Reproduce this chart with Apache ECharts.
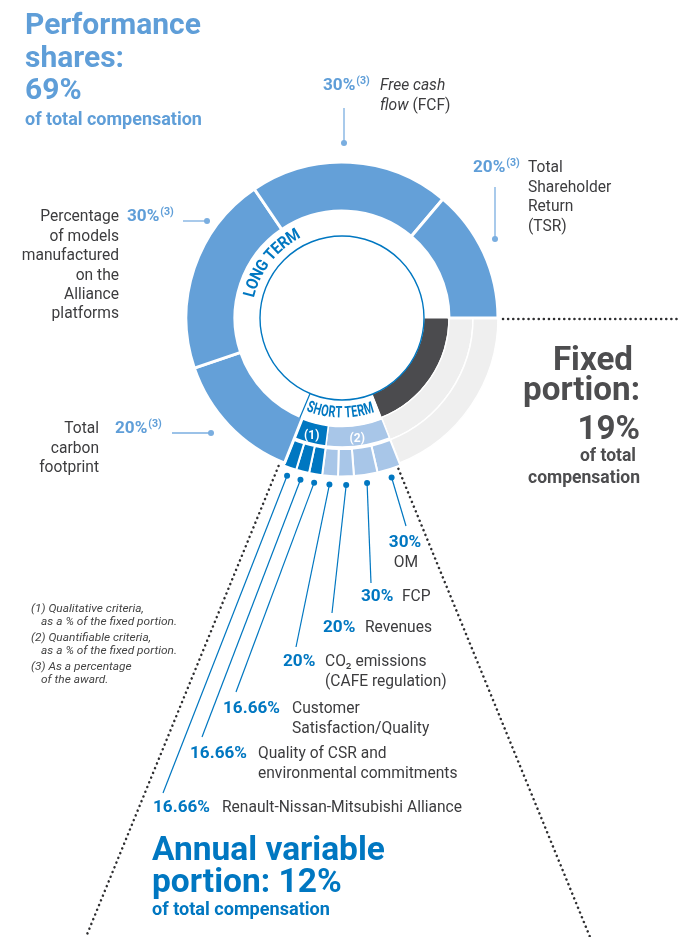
<!DOCTYPE html>
<html><head><meta charset="utf-8">
<script src="https://cdn.jsdelivr.net/npm/echarts@6/dist/echarts.min.js"></script>
<style>html,body{margin:0;padding:0;background:#fff}#c{width:681px;height:937px}</style>
</head><body><div id="c"></div>
<script>
// ---------------- DATA ----------------
const groupNames = ['Fixed portion', 'Annual variable portion', 'Performance shares'];
const groupShares = [19, 12, 69]; // % of total compensation
const longTermNames = ['Total carbon footprint', 'Percentage of models manufactured on the Alliance platforms', 'Free cash flow (FCF)', 'Total Shareholder Return (TSR)'];
const longTermWeights = [20, 30, 30, 20]; // % of the award
const quantNames = ['OM', 'FCP', 'Revenues', 'CO2 emissions (CAFE regulation)'];
const quantWeights = [30, 30, 20, 20]; // % of fixed portion
const qualNames = ['Customer Satisfaction/Quality', 'Quality of CSR and environmental commitments', 'Renault-Nissan-Mitsubishi Alliance'];
const qualWeights = [16.66, 16.66, 16.66]; // % of fixed portion
const footnotes = [['(1) Qualitative criteria,', 'as a % of the fixed portion.'], ['(2) Quantifiable criteria,', 'as a % of the fixed portion.'], ['(3) As a percentage', 'of the award.']];

// ---------------- STYLE / LAYOUT ----------------
const FONT = 'Roboto, "Noto Sans", sans-serif';
const C = { longBlue:'#64a0d8', titleBlue:'#5f9ed8', darkBlue:'#0077c1', lightBlue:'#a8c6e8', darkGray:'#4b4b4e', lightGray:'#efefef', text:'#3c3c3e', fixedText:'#4d4d4f', dots:'#2e2e30', leaderLight:'#7aaee0' };
const CX = 342, CY = 318;
const R = { hole: 82, mid: 107, split: 131, out: 156, stMidIn: 108.5, stMidOut: 129, stOutIn: 131, stOut: 158.5 };

const sum = a => a.reduce((s, v) => s + v, 0);
const mctx = document.createElement('canvas').getContext('2d');
function fitSize(str, weight, style, target) {
  mctx.font = `${style} ${weight} 100px ${FONT}`;
  return 100 * target / mctx.measureText(str).width;
}
function measure(str, font) { mctx.font = font; return mctx.measureText(str).width; }
function polar(deg, r) { const t = deg * Math.PI / 180; return [CX + r * Math.cos(t), CY + r * Math.sin(t)]; }

const fsPerf = fitSize('Performance', 'bold', 'normal', 176);
const fsPerfSub = fitSize('of total compensation', 'bold', 'normal', 177);
const fsAnnual = fitSize('Annual variable', 'bold', 'normal', 233);
const fsAnnualSub = fitSize('of total compensation', 'bold', 'normal', 178);
const fsFixed = fitSize('portion:', 'bold', 'normal', 117);
const fsFixedSub = fitSize('compensation', 'bold', 'normal', 112);
const fsBody = 16.8;
const sxBody = 240 / measure('Renault-Nissan-Mitsubishi Alliance', `normal normal ${fsBody}px ${FONT}`);
const fsPct = fitSize('16.66%', 'bold', 'normal', 57);
const fsNote = 11.8;
const sxNote = 136 / measure('as a % of the fixed portion.', `italic normal ${fsNote}px ${FONT}`);

const G = [];
function T(str, x, base, fs, opt = {}) {
  const weight = opt.weight || 'normal', style = opt.style || 'normal';
  G.push({ type: 'text', x, y: base - 0.35 * fs, z: 20, scaleX: opt.sx || 1, style: { text: str, font: `${style} ${weight} ${fs.toFixed(2)}px ${FONT}`, fill: opt.color || C.text, textAlign: opt.align || 'left', textVerticalAlign: 'middle' } });
}
function L(p1, p2, color, w, dash) {
  G.push({ type: 'line', z: 18, shape: { x1: p1[0], y1: p1[1], x2: p2[0], y2: p2[1] }, style: { stroke: color, lineWidth: w, lineDash: dash || null, lineCap: dash ? 'round' : 'butt' } });
}
function dot(p, color) { G.push({ type: 'circle', z: 19, shape: { cx: p[0], cy: p[1], r: 3 }, style: { fill: color } }); }
function arcText(str, r, midDeg, dir, fs, sx, color) {
  const font = `bold ${fs}px ${FONT}`;
  mctx.font = font;
  const chars = [...str];
  const ws = chars.map(c => mctx.measureText(c).width * sx);
  let acc = -sum(ws) / 2;
  chars.forEach((c, i) => {
    const s = acc + ws[i] / 2; acc += ws[i];
    if (c === ' ') return;
    const th = midDeg * Math.PI / 180 + dir * s / r;
    const rot = dir > 0 ? -(th + Math.PI / 2) : -(th - Math.PI / 2);
    G.push({ type: 'text', x: CX + r * Math.cos(th), y: CY + r * Math.sin(th), rotation: rot, scaleX: sx, z: 21,
      style: { text: c, font, fill: color, textAlign: 'center', textVerticalAlign: 'middle' } });
  });
}

// ---------------- angles ----------------
const fixedV = groupShares[0], shortV = groupShares[1], longV = groupShares[2];
const k = shortV / (sum(quantWeights) + sum(qualWeights));
const ltK = longV / sum(longTermWeights);
const degPer = 360 / sum(groupShares);
const shortStart = fixedV * degPer, shortEnd = (fixedV + shortV) * degPer;
const shortItems = quantWeights.concat(qualWeights);
const shortMid = []; { let a = shortStart; shortItems.forEach(w => { const d = w * k * degPer; shortMid.push(a + d / 2); a += d; }); }

// ---------------- headings ----------------
T('Performance', 25, 37, fsPerf, { weight: 'bold', color: C.titleBlue });
T('shares:', 25, 70, fsPerf, { weight: 'bold', color: C.titleBlue });
T(groupShares[2] + '%', 25, 102, fsPerf, { weight: 'bold', color: C.titleBlue });
T('of total compensation', 25, 127, fsPerfSub, { weight: 'bold', color: C.titleBlue });

T('Fixed', 633, 373, fsFixed, { weight: 'bold', color: C.fixedText, align: 'right' });
T('portion:', 640, 403, fsFixed, { weight: 'bold', color: C.fixedText, align: 'right' });
T(groupShares[0] + '%', 640, 442, fsFixed, { weight: 'bold', color: C.fixedText, align: 'right' });
T('of total', 636, 463, fsFixedSub, { weight: 'bold', color: C.fixedText, align: 'right' });
T('compensation', 640, 485, fsFixedSub, { weight: 'bold', color: C.fixedText, align: 'right' });

T('Annual variable', 152, 863, fsAnnual, { weight: 'bold', color: C.darkBlue });
T('portion: ' + groupShares[1] + '%', 152, 895, fsAnnual, { weight: 'bold', color: C.darkBlue });
T('of total compensation', 152, 917, fsAnnualSub, { weight: 'bold', color: C.darkBlue });

// footnotes
footnotes.forEach((f, i) => {
  const b = 613 + i * 29;
  T(f[0], 31, b, fsNote, { style: 'italic', color: '#444', sx: sxNote });
  T(f[1], 41, b + 13, fsNote, { style: 'italic', color: '#444', sx: sxNote });
});

// ---------------- long-term labels ----------------
const LH = 19.4;
const ltLayout = [
  { pctX: 115, base: 435, textX: 99, align: 'right', lines: ['Total', 'carbon', 'footprint'], line: [[172, 433], [211, 433]] },
  { pctX: 127, base: 223, textX: 119, align: 'right', lines: ['Percentage', 'of models', 'manufactured', 'on the', 'Alliance', 'platforms'], line: [[183, 221], [207, 221]] },
  { pctX: 323, base: 92, textX: 380, align: 'left', lines: null, line: [[344, 108], [344, 143]] },
  { pctX: 473, base: 174, textX: 528, align: 'left', lines: ['Total', 'Shareholder', 'Return', '(TSR)'], line: [[495, 187], [495, 239]] }
];
const bodyOpt = extra => Object.assign({ sx: sxBody }, extra || {});
ltLayout.forEach((o, i) => {
  const pct = longTermWeights[i] + '%';
  T(pct, o.pctX, o.base, fsPct, { weight: 'bold', color: C.titleBlue });
  const w = measure(pct, `bold ${fsPct}px ${FONT}`);
  T('(3)', o.pctX + w + 1, o.base - 7, fsPct * 0.62, { weight: 'bold', color: C.titleBlue });
  if (o.lines) o.lines.forEach((s, j) => T(s, o.textX, o.base + j * LH, fsBody, bodyOpt({ align: o.align })));
  else {
    T('Free cash', o.textX, o.base, fsBody, bodyOpt({ style: 'italic' }));
    T('flow', o.textX, o.base + 20, fsBody, bodyOpt({ style: 'italic' }));
    const fw = measure('flow ', `italic normal ${fsBody}px ${FONT}`) * sxBody;
    T('(FCF)', o.textX + fw, o.base + 20, fsBody, bodyOpt());
  }
  L(o.line[0], o.line[1], C.leaderLight, 1.3);
  dot(o.line[1], C.leaderLight);
});

// ---------------- short-term labels ----------------
const stLayout = [
  { pctX: 405, base: 549, center: true, end: [406, 526], lines: ['OM'] },
  { pctX: 361, base: 603, textX: 402, end: [371, 583], lines: ['FCP'] },
  { pctX: 323, base: 634, textX: 365, end: [332, 613], lines: ['Revenues'] },
  { pctX: 283, base: 668, textX: 325, end: [296, 647], lines: ['CO\u2082 emissions', '(CAFE regulation)'] },
  { pctX: 223, base: 715, textX: 292, end: [236, 692], lines: ['Customer', 'Satisfaction/Quality'] },
  { pctX: 190, base: 760, textX: 258, end: [202, 737], lines: ['Quality of CSR and', 'environmental commitments'] },
  { pctX: 153, base: 814, textX: 222, end: [163, 793], lines: ['Renault-Nissan-Mitsubishi Alliance'] }
];
stLayout.forEach((o, i) => {
  const pct = shortItems[i] + '%';
  if (o.center) {
    T(pct, o.pctX, o.base, fsPct, { weight: 'bold', color: C.darkBlue, align: 'center' });
    T(o.lines[0], o.pctX + 1, o.base + 20, fsBody, bodyOpt({ align: 'center' }));
  } else {
    T(pct, o.pctX, o.base, fsPct, { weight: 'bold', color: C.darkBlue });
    o.lines.forEach((s, j) => T(s, o.textX, o.base + j * 19.6, fsBody, bodyOpt()));
  }
  const p = polar(shortMid[i], 167);
  L(p, o.end, C.darkBlue, 1.2);
  dot(p, C.darkBlue);
});

// ---------------- ring decorations ----------------
G.push({ type: 'circle', z: 15, shape: { cx: CX, cy: CY, r: R.hole }, style: { fill: 'none', stroke: C.darkBlue, lineWidth: 1.4 } });
L(polar(shortEnd + 1.3, R.hole), polar(shortEnd + 1.3, R.stMidIn), C.darkBlue, 1.2);
arcText('LONG TERM', 94.5, 218, 1, 16.5, 0.9, C.darkBlue);
arcText('SHORT TERM', 95.5, 91, -1, 16, 0.68, C.darkBlue);
const dotDash = [0.1, 5];
L([CX + R.out + 5, CY + 1], [681, CY + 1], C.dots, 2.5, dotDash);
L(polar(shortEnd + 1.6, 161), [86, 937], C.dots, 2.5, dotDash);
L(polar(shortStart + 1.1, 161), [590, 937], C.dots, 2.5, dotDash);

// ---------------- series ----------------
const base = { type: 'pie', center: [CX, CY], startAngle: 0, clockwise: true, silent: true, avoidLabelOverlap: false,
  label: { show: false }, labelLine: { show: false }, emphasis: { disabled: true }, animation: false, z: 2 };
const gap = { color: 'rgba(0,0,0,0)', borderWidth: 0 };
const wb = (color, bw) => ({ color, borderColor: '#fff', borderWidth: bw });
const inLabel = txt => ({ show: true, position: 'inside', formatter: txt, color: '#fff', fontSize: 12, fontWeight: 'bold', fontFamily: FONT });

const series = [
  { ...base, name: 'core', radius: [R.hole, R.mid], data: [
    { name: groupNames[0], value: fixedV, itemStyle: wb(C.darkGray, 1) },
    { name: groupNames[1], value: shortV, itemStyle: { color: '#fff', borderWidth: 0 } },
    { name: groupNames[2], value: longV, itemStyle: { color: '#fff', borderWidth: 0 } } ] },
  { ...base, name: 'fixedA', radius: [R.mid, R.split], data: [
    { name: groupNames[0], value: fixedV, itemStyle: wb(C.lightGray, 1.5) },
    { name: 'rest', value: shortV + longV, itemStyle: gap } ] },
  { ...base, name: 'fixedB', radius: [R.split, R.out], data: [
    { name: groupNames[0], value: fixedV, itemStyle: wb(C.lightGray, 1.5) },
    { name: 'rest', value: shortV + longV, itemStyle: gap } ] },
  { ...base, name: 'shortGroups', radius: [R.stMidIn, R.stMidOut], data: [
    { name: 'pad', value: fixedV, itemStyle: gap },
    { name: '(2)', value: sum(quantWeights) * k, itemStyle: wb(C.lightBlue, 1.5), label: inLabel('(2)') },
    { name: '(1)', value: sum(qualWeights) * k, itemStyle: wb(C.darkBlue, 1.5), label: inLabel('(1)') },
    { name: 'pad2', value: longV, itemStyle: gap } ] },
  { ...base, name: 'shortItems', radius: [R.stOutIn, R.stOut], data: [
    { name: 'pad', value: fixedV, itemStyle: gap },
    ...quantWeights.map((w, i) => ({ name: quantNames[i], value: w * k, itemStyle: wb(C.lightBlue, 2) })),
    ...qualWeights.map((w, i) => ({ name: qualNames[i], value: w * k, itemStyle: wb(C.darkBlue, 2) })),
    { name: 'pad2', value: longV, itemStyle: gap } ] },
  { ...base, name: 'longTerm', radius: [R.mid, R.out], data: [
    { name: 'pad', value: fixedV + shortV, itemStyle: gap },
    ...longTermWeights.map((w, i) => ({ name: longTermNames[i], value: w * ltK, itemStyle: wb(C.longBlue, 3) })) ] }
];

const chart = echarts.init(document.getElementById('c'), null, { renderer: 'canvas' });
chart.setOption({ animation: false, backgroundColor: '#fff', series, graphic: { elements: G } });
</script></body></html>
